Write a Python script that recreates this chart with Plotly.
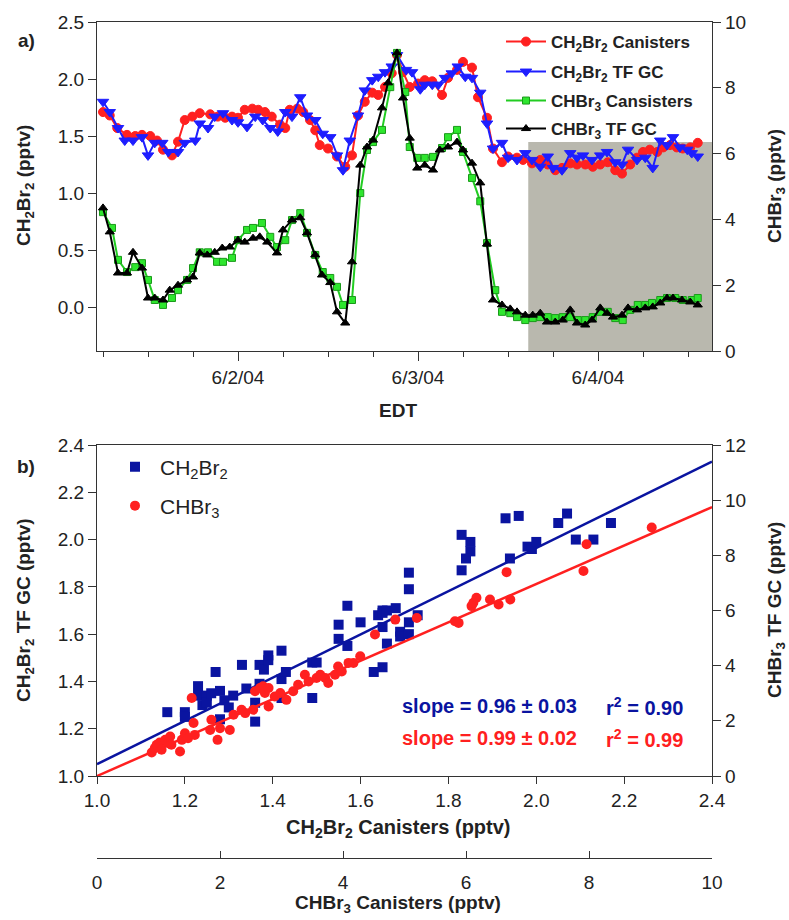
import plotly.graph_objects as go
import pandas as pd

# ---------------- Panel a) time series (hours after 2004-06-01 00:00 EDT) ----------------
ch2br2_can_hours = [6.0,6.9,7.9,9.2,10.3,11.2,12.3,13.2,14.0,15.2,16.0,16.9,17.9,18.9,20.3,21.3,22.3,23.2,24.0,24.9,
                    25.9,26.7,27.6,28.5,29.6,30.3,30.9,31.9,32.7,33.6,34.3,34.9,36.0,37.2,38.3,39.2,40.0,40.9,41.9,42.7,
                    43.6,44.5,45.2,46.0,46.9,48.0,48.9,49.9,51.2,52.0,53.2,54.0,55.2,56.0,57.2,58.0,59.2,60.0,61.2,62.0,
                    63.2,64.3,65.3,66.3,67.2,68.3,69.2,70.3,71.3,72.3,73.3,74.3,75.2,76.3,77.2,78.0,78.9,79.9,80.7,81.6,
                    82.5,83.3,84.3,85.3]
ch2br2_can = [1.71,1.68,1.57,1.51,1.50,1.51,1.50,1.46,1.38,1.33,1.45,1.64,1.67,1.70,1.69,1.67,1.66,1.67,1.66,1.73,
              1.74,1.73,1.71,1.67,1.60,1.57,1.73,1.74,1.71,1.64,1.55,1.42,1.39,1.32,1.23,1.33,1.68,1.80,1.88,1.86,
              1.93,2.05,2.21,2.06,1.93,1.96,1.99,1.98,1.86,2.01,2.08,2.15,2.10,1.84,1.66,1.39,1.27,1.32,1.31,1.29,
              1.26,1.29,1.25,1.20,1.22,1.26,1.25,1.25,1.23,1.25,1.27,1.20,1.17,1.25,1.31,1.36,1.38,1.36,1.40,1.42,
              1.40,1.39,1.40,1.44]

ch2br2_tf_hours = [6.0,6.9,8.0,8.9,10.0,11.2,12.0,12.9,13.9,14.7,16.0,16.9,18.3,18.9,20.0,20.9,22.0,23.2,24.0,25.2,
                   26.3,27.3,28.3,29.3,30.3,31.2,32.3,33.2,34.3,35.3,36.3,37.2,38.0,38.9,40.0,40.9,41.9,42.7,43.6,44.5,
                   45.2,46.4,47.2,48.3,48.9,49.9,50.7,51.6,52.5,53.3,54.3,55.2,56.3,57.2,58.0,59.2,60.0,61.2,62.3,63.2,
                   64.3,65.3,66.0,67.2,68.3,69.2,70.0,71.2,72.3,73.2,74.3,75.2,76.0,77.2,78.3,79.3,80.3,81.2,82.0,82.9,
                   83.9,84.5,85.3]
ch2br2_tf = [1.80,1.71,1.57,1.46,1.46,1.49,1.33,1.44,1.44,1.36,1.36,1.44,1.46,1.61,1.57,1.67,1.70,1.64,1.62,1.58,
             1.67,1.64,1.57,1.54,1.71,1.67,1.84,1.68,1.64,1.52,1.49,1.33,1.20,1.46,1.68,1.90,1.99,2.02,2.06,2.11,
             2.21,2.08,2.06,1.91,1.95,1.95,1.95,2.01,2.05,2.11,2.02,2.01,1.88,1.61,1.39,1.44,1.31,1.29,1.35,1.29,
             1.23,1.32,1.22,1.20,1.35,1.31,1.33,1.29,1.33,1.36,1.27,1.25,1.38,1.29,1.31,1.22,1.46,1.42,1.49,1.40,
             1.38,1.35,1.32]

chbr3_can_hours = [6.0,7.2,8.0,9.2,10.3,11.2,12.0,12.9,14.0,15.2,16.0,17.2,18.0,18.9,20.0,21.2,22.0,23.2,24.0,25.2,
                   26.0,27.2,28.3,29.2,30.3,31.2,32.3,33.2,34.3,35.3,36.3,37.2,38.0,39.2,40.3,41.2,42.0,43.2,44.3,45.2,
                   46.3,46.9,47.9,48.9,50.0,51.2,52.0,53.2,54.0,55.2,56.3,57.2,58.3,59.2,60.3,61.2,62.3,63.3,64.3,65.3,
                   66.3,67.3,68.3,69.3,70.3,71.3,72.3,73.3,74.3,75.3,76.3,77.3,78.3,79.2,80.3,81.2,82.3,83.3,84.5,85.3]
chbr3_can = [4.22,3.74,2.77,2.40,2.55,2.67,2.16,1.55,1.40,1.61,1.85,2.16,2.52,3.00,3.00,2.71,2.71,2.83,3.37,3.68,
             3.74,3.89,3.47,3.16,3.37,3.98,4.19,3.59,2.92,2.40,2.22,1.95,1.40,1.55,4.80,6.11,6.35,6.72,8.02,9.06,
             7.87,6.20,5.87,5.87,5.90,6.17,6.50,6.72,6.05,5.26,4.55,3.28,1.85,1.19,1.15,1.03,0.94,1.00,1.03,1.03,
             1.00,1.03,1.03,0.94,0.94,1.03,1.19,1.19,1.00,0.94,1.25,1.40,1.40,1.46,1.55,1.61,1.61,1.55,1.55,1.61]

chbr3_tf_hours = [6.0,6.9,8.0,9.2,10.0,11.2,12.0,12.9,14.0,14.9,16.0,17.2,18.0,18.9,19.9,20.9,21.9,22.9,24.0,24.9,
                  26.0,26.9,27.9,29.2,30.0,31.2,32.3,33.2,34.3,35.2,36.3,37.2,38.3,39.2,40.3,41.2,42.0,43.2,44.0,45.2,
                  46.0,46.9,47.9,48.9,50.0,50.9,52.0,53.2,54.0,55.2,56.3,57.2,58.0,59.2,60.3,61.2,62.3,63.3,64.3,65.2,
                  66.3,67.3,68.3,69.2,70.3,71.2,72.3,73.2,74.0,75.2,76.0,77.2,78.3,79.3,80.3,81.2,82.0,83.2,84.3,85.3]
chbr3_tf = [4.35,3.62,2.37,2.37,3.00,2.52,1.61,1.61,1.55,1.85,2.00,2.16,2.25,2.98,2.92,3.00,3.13,3.16,3.37,3.31,
            3.43,3.47,3.31,2.98,3.68,3.98,4.05,3.59,2.92,2.31,2.08,1.19,0.85,2.71,5.65,6.20,6.41,7.39,8.15,9.06,
            7.69,6.47,5.56,5.65,5.50,6.11,6.20,6.35,6.11,5.71,5.11,3.25,1.55,1.40,1.28,1.19,1.09,1.09,1.15,0.88,
            0.88,0.94,1.25,0.85,0.79,0.94,1.31,1.15,1.03,1.09,1.31,1.25,1.31,1.34,1.46,1.61,1.61,1.55,1.49,1.40]

shade_start_hour = 62.7
shade_top_chbr3 = 6.35
date_labels_fmt = "%-m/%-d/%y"

# ---------------- Panel b) scatter ----------------
ch2br2_canisters = [1.16,1.20,1.20,1.23,1.23,1.24,1.25,1.25,1.26,1.27,1.28,1.28,1.29,1.30,1.31,1.33,1.34,1.36,1.36,1.37,
                    1.37,1.38,1.39,1.39,1.42,1.42,1.42,1.43,1.49,1.49,1.50,1.55,1.55,1.57,1.57,1.60,1.63,1.65,1.65,1.64,
                    1.65,1.66,1.65,1.66,1.68,1.69,1.69,1.71,1.71,1.71,1.71,1.73,1.83,1.85,1.85,1.84,1.83,1.93,1.96,1.94,
                    1.98,1.99,2.00,2.05,2.07,2.09,2.13,2.17]
ch2br2_tfgc = [1.27,1.27,1.25,1.38,1.34,1.30,1.34,1.31,1.35,1.44,1.36,1.24,1.32,1.29,1.34,1.47,1.37,1.23,1.31,1.39,
               1.47,1.45,1.49,1.51,1.53,1.41,1.33,1.44,1.48,1.33,1.48,1.64,1.58,1.72,1.55,1.65,1.44,1.46,1.70,1.68,
               1.69,1.70,1.63,1.56,1.71,1.61,1.59,1.60,1.79,1.86,1.65,1.68,2.02,1.99,1.95,1.92,1.87,2.09,2.10,1.92,
               1.97,1.96,1.99,2.07,2.11,2.00,2.00,2.07]

chbr3_canisters = [0.89,0.94,0.97,1.02,1.05,1.11,1.16,1.19,1.21,1.35,1.38,1.43,1.48,1.54,1.57,1.59,1.84,1.86,1.96,2.00,
                   2.16,2.22,2.35,2.41,2.54,2.57,2.65,2.70,2.73,2.79,2.79,2.89,2.98,3.08,3.19,3.27,3.38,3.44,3.57,3.63,
                   3.71,3.76,3.87,3.92,3.98,4.09,4.17,4.28,4.52,4.85,5.20,5.82,5.88,6.09,6.12,6.17,6.39,6.53,6.72,6.66,
                   7.91,7.96,9.02]
chbr3_tfgc = [0.85,1.01,1.13,1.21,0.95,1.31,1.19,1.43,1.13,0.89,1.31,1.55,1.37,2.83,1.92,1.49,1.67,2.04,1.31,1.73,
              1.67,2.22,2.40,2.28,2.40,3.07,3.19,3.25,3.01,3.19,2.52,2.88,3.01,2.76,3.07,3.31,3.67,3.43,3.55,3.67,
              3.55,3.37,3.67,3.97,3.79,4.10,4.10,4.34,5.13,5.67,5.73,5.61,5.55,6.16,6.28,6.46,6.40,6.22,6.40,7.39,
              7.43,8.40,9.01]

fit_ch2br2_x = [1.0, 2.4]
fit_ch2br2_y = [1.05, 2.33]
fit_chbr3_x = [0.0, 10.0]
fit_chbr3_y = [0.0, 9.75]

stats_ch2br2 = ("slope = 0.96 ± 0.03", "r<sup>2</sup> = 0.90")
stats_chbr3 = ("slope = 0.99 ± 0.02", "r<sup>2</sup> = 0.99")

# ---------------- styling ----------------
RED = "#ff2020"
BLUE = "#1e1eff"
GREEN = "#2ee62e"
BLACK = "#000000"
NAVY = "#0a14a0"
AX = "#333333"
FONT = "Liberation Sans, Arial, sans-serif"

base = pd.Timestamp("2004-06-01 00:00")
def to_time(hours):
    return [base + pd.Timedelta(hours=h) for h in hours]

W, H = 789, 920
ML, MR, MT, MB = 97, 77, 22, 62
PW, PH = W - ML - MR, H - MT - MB
def px(xp):
    return (xp - ML) / PW
def py(yp):
    return 1 - (yp - MT) / PH

fig = go.Figure()

series = [
    ("<b>CH<sub>2</sub>Br<sub>2</sub> Canisters</b>", ch2br2_can_hours, ch2br2_can, RED, "circle", 9, "y", RED, "legend"),
    ("<b>CH<sub>2</sub>Br<sub>2</sub> TF GC</b>", ch2br2_tf_hours, ch2br2_tf, BLUE, "triangle-down", 10, "y", BLUE, "legend2"),
    ("<b>CHBr<sub>3</sub> Cansisters</b>", chbr3_can_hours, chbr3_can, GREEN, "square", 7, "y2", "#1a9a1a", "legend3"),
    ("<b>CHBr<sub>3</sub> TF GC</b>", chbr3_tf_hours, chbr3_tf, BLACK, "triangle-up", 8, "y2", BLACK, "legend4"),
]
for name, hrs, vals, col, sym, size, yax, lcol, leg in series:
    fig.add_trace(go.Scatter(
        x=to_time(hrs), y=vals, name=name, mode="lines+markers",
        line=dict(color=col if col != GREEN else "#22cc22", width=2),
        marker=dict(symbol=sym, size=size, color=col, line=dict(color=lcol, width=1)),
        xaxis="x", yaxis=yax, legend=leg))

# panel b scatter
fig.add_trace(go.Scatter(x=fit_ch2br2_x, y=fit_ch2br2_y, mode="lines", line=dict(color=NAVY, width=2.5),
                         xaxis="x2", yaxis="y3", showlegend=False, hoverinfo="skip"))
fig.add_trace(go.Scatter(x=fit_chbr3_x, y=fit_chbr3_y, mode="lines", line=dict(color=RED, width=2.5),
                         xaxis="x3", yaxis="y4", showlegend=False, hoverinfo="skip"))
fig.add_trace(go.Scatter(x=ch2br2_canisters, y=ch2br2_tfgc, mode="markers", name="CH<sub>2</sub>Br<sub>2</sub>",
                         marker=dict(symbol="square", size=10, color=NAVY),
                         xaxis="x2", yaxis="y3", legend="legend5"))
fig.add_trace(go.Scatter(x=chbr3_canisters, y=chbr3_tfgc, mode="markers", name="CHBr<sub>3</sub>",
                         marker=dict(symbol="circle", size=10, color=RED),
                         xaxis="x3", yaxis="y4", legend="legend6"))

top_dom = [py(351), py(22)]
bot_dom = [py(776), py(445)]

tickfont = dict(family=FONT, size=19, color="#222222")
common = dict(showline=True, linecolor=AX, linewidth=1.3, ticks="outside", tickcolor=AX, tickwidth=1.3,
              showgrid=False, zeroline=False, tickfont=tickfont)

fig.update_layout(
    width=W, height=H, margin=dict(l=ML, r=MR, t=MT, b=MB),
    paper_bgcolor="white", plot_bgcolor="white",
    font=dict(family=FONT, color="#222222"),
    xaxis=dict(**common, type="date", domain=[0, 1], anchor="y", mirror=True,
               range=[base + pd.Timedelta(hours=5.2), base + pd.Timedelta(hours=87.2)],
               tick0=base, dtick=86400000, tickformat=date_labels_fmt, ticklen=9,
               minor=dict(dtick=6 * 3600000, tick0=base, ticks="outside", ticklen=5, tickcolor=AX, tickwidth=1)),
    yaxis=dict(**common, domain=top_dom, anchor="x", range=[-0.386, 2.5], tickvals=[0, 0.5, 1, 1.5, 2, 2.5],
               tickformat=".1f", ticklen=8),
    yaxis2=dict(**common, overlaying="y", side="right", anchor="x", range=[0, 10], dtick=2, ticklen=8),
    xaxis2=dict(**common, domain=[0, 1], anchor="y3", mirror=True, range=[1.0, 2.4], dtick=0.2, tickformat=".1f",
                ticklen=7),
    yaxis3=dict(**common, domain=bot_dom, anchor="x2", range=[1.0, 2.4], dtick=0.2, tickformat=".1f", ticklen=8),
    yaxis4=dict(**common, overlaying="y3", side="right", anchor="x2", range=[0, 12], dtick=2, ticklen=8),
    xaxis3=dict(**common, overlaying="x2", anchor="free", position=0, side="bottom", range=[0, 10], dtick=2),
)
fig.update_layout(xaxis3=dict(ticks="inside", ticklen=7, ticklabelstandoff=7))

fig.add_shape(type="rect", xref="x", yref="y2",
              x0=base + pd.Timedelta(hours=shade_start_hour), x1=base + pd.Timedelta(hours=87.2),
              y0=0, y1=shade_top_chbr3, fillcolor="#b9b8ae", line=dict(width=0), layer="below")

# legends
leg_common = dict(bgcolor="rgba(0,0,0,0)", font=dict(family=FONT, size=17, color="#222222"),
                  xanchor="left", yanchor="middle", itemwidth=40)
leg_y = [42, 72, 101, 129]
for i, key in enumerate(["legend", "legend2", "legend3", "legend4"]):
    fig.update_layout({key: dict(**leg_common, x=px(501), y=py(leg_y[i]))})
leg_b = dict(bgcolor="rgba(0,0,0,0)", font=dict(family=FONT, size=21, color="#222222"),
             xanchor="left", yanchor="middle", itemwidth=40)
fig.update_layout(legend5=dict(**leg_b, x=px(110), y=py(467)), legend6=dict(**leg_b, x=px(110), y=py(506)))

def ann(text, xp, yp, size=19, angle=0, color="#222222", xanchor="center", bold=True):
    fig.add_annotation(text=f"<b>{text}</b>" if bold else text, x=px(xp), y=py(yp), xref="paper", yref="paper",
                       showarrow=False, textangle=angle, xanchor=xanchor, yanchor="middle",
                       font=dict(family=FONT, size=size, color=color))

ann("a)", 26, 41)
ann("b)", 26, 466)
ann("CH<sub>2</sub>Br<sub>2</sub> (pptv)", 25, 186, angle=-90)
ann("CHBr<sub>3</sub> (pptv)", 776, 186, angle=-90)
ann("EDT", 398, 410)
ann("CH<sub>2</sub>Br<sub>2</sub> TF GC (pptv)", 25, 610, angle=-90)
ann("CHBr<sub>3</sub> TF GC (pptv)", 776, 610, angle=-90)
ann("CH<sub>2</sub>Br<sub>2</sub> Canisters (pptv)", 398, 828, size=20)
ann("CHBr<sub>3</sub> Canisters (pptv)", 398, 904, size=19)
ann(stats_ch2br2[0], 400, 706, size=20, color=NAVY, xanchor="left")
ann(stats_ch2br2[1], 604, 706, size=20, color=NAVY, xanchor="left")
ann(stats_chbr3[0], 400, 738, size=20, color=RED, xanchor="left")
ann(stats_chbr3[1], 604, 738, size=20, color=RED, xanchor="left")

fig.write_html("out.html")
